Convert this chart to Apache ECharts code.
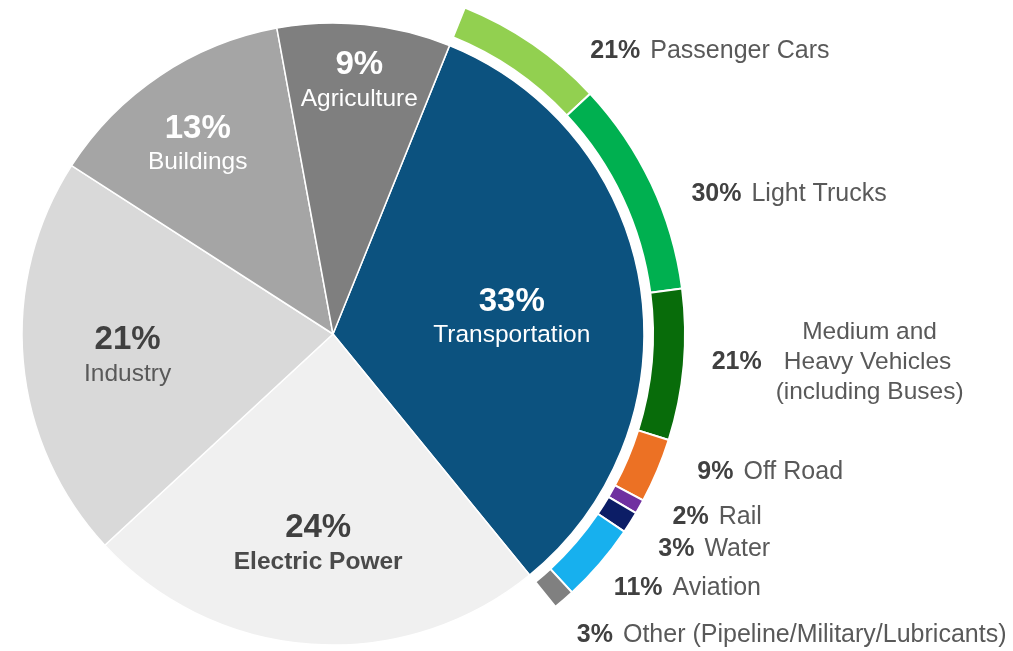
<!DOCTYPE html>
<html>
<head>
<meta charset="utf-8">
<script src="https://cdn.jsdelivr.net/npm/echarts@6/dist/echarts.min.js"></script>
<style>
  html, body { margin: 0; padding: 0; background: #ffffff; }
  #chart { width: 1013px; height: 651px; }
</style>
</head>
<body>
<div id="chart"></div>
<script>
// ---- data ----
const sectorNames = ['Transportation', 'Electric Power', 'Industry', 'Buildings', 'Agriculture'];
const sectorShares = [33, 24, 21, 13, 9];
const transportModes = ['Passenger Cars', 'Light Trucks', 'Medium and Heavy Vehicles (including Buses)', 'Off Road', 'Rail', 'Water', 'Aviation', 'Other (Pipeline/Military/Lubricants)'];
const transportShares = [21, 30, 21, 9, 2, 3, 11, 3];

// ---- styles ----
const FONT = 'Arial, "Liberation Sans", sans-serif';
const CX = 333, CY = 334, R = 311;
const START = 68;
const sectorColors = ['#0c527f', '#f0f0f0', '#d9d9d9', '#a5a5a5', '#7f7f7f'];
const sectorTextDark = [false, true, true, false, false];
const sectorLabelRadius = [0.58, 0.67, 0.66, 0.75, 0.82];
const sectorLabelNudge = [[-3, 10], [0, -3], [3, 3], [-3, 7], [0, 5]];
const modeColors = ['#92d050', '#00b050', '#086c0a', '#ec7124', '#7030a0', '#0c1d66', '#17b0ee', '#808080'];
const ringLabelOffsets = [[58, 7], [40, 10], [28, -3], [40, 1], [33, 10], [28, 27], [14, 25], [13, 35]];

const sectorData = sectorNames.map((n, i) => {
  const dark = sectorTextDark[i];
  const pc = dark ? '#404040' : '#ffffff';
  const nc = dark ? '#595959' : '#ffffff';
  return {
    name: n,
    value: sectorShares[i],
    itemStyle: { color: sectorColors[i] },
    label: {
      rich: {
        p: { fontFamily: FONT, fontSize: 33, fontWeight: 'bold', color: pc, lineHeight: 38, align: 'center' },
        n: { fontFamily: FONT, fontSize: 24.5, fontWeight: n === 'Electric Power' ? 'bold' : 'normal', color: n === 'Electric Power' ? '#4a4a4a' : nc, lineHeight: 30, align: 'center' }
      }
    }
  };
});

const transportIndex = sectorNames.indexOf('Transportation');
const sectorTotal = sectorShares.reduce((a, b) => a + b, 0);
const modeTotal = transportShares.reduce((a, b) => a + b, 0);
const ringRest = modeTotal * (sectorTotal - sectorShares[transportIndex]) / sectorShares[transportIndex];

const ringData = transportModes.map((n, i) => ({
  name: n,
  value: transportShares[i],
  itemStyle: { color: modeColors[i] }
}));
ringData.push({
  name: '__rest',
  value: ringRest,
  itemStyle: { color: 'rgba(0,0,0,0)', borderWidth: 0 },
  label: { show: false },
  labelLine: { show: false },
  emphasis: { disabled: true },
  tooltip: { show: false }
});

function ringFormatter(p) {
  if (p.name === 'Medium and Heavy Vehicles (including Buses)') {
    return '{sp| }{c|Medium and}\n{p|' + p.value + '%}{c|Heavy Vehicles}\n{sp| }{c|(including Buses)}';
  }
  return '{p|' + p.value + '%}{n|' + p.name + '}';
}

const chart = echarts.init(document.getElementById('chart'), null, { renderer: 'canvas' });
chart.setOption({
  backgroundColor: '#ffffff',
  animation: false,
  series: [
    {
      type: 'pie',
      center: [CX, CY],
      radius: [0, R],
      startAngle: START,
      clockwise: true,
      silent: true,
      avoidLabelOverlap: false,
      itemStyle: { borderColor: '#ffffff', borderWidth: 1.5 },
      label: {
        show: true,
        position: 'inside',
        formatter: p => '{p|' + p.value + '%}\n{n|' + p.name + '}'
      },
      labelLine: { show: false },
      labelLayout: function (p) {
        const f = sectorLabelRadius[p.dataIndex];
        const d = sectorLabelNudge[p.dataIndex];
        const r = p.labelRect;
        const mx = r.x + r.width / 2, my = r.y + r.height / 2;
        const k = f / 0.5;
        return { x: CX + (mx - CX) * k + d[0], y: CY + (my - CY) * k + d[1] };
      },
      data: sectorData
    },
    {
      type: 'pie',
      center: [CX, CY],
      radius: [320, 352],
      startAngle: START,
      clockwise: true,
      silent: true,
      avoidLabelOverlap: false,
      itemStyle: { borderColor: '#ffffff', borderWidth: 2 },
      label: {
        show: true,
        position: 'outside',
        alignTo: 'none',
        distanceToLabelLine: 0,
        formatter: ringFormatter,
        rich: {
          p: { fontFamily: FONT, fontSize: 25, fontWeight: 'bold', color: '#404040', lineHeight: 30, padding: [0, 10, 0, 0] },
          n: { fontFamily: FONT, fontSize: 25, color: '#595959', lineHeight: 30 },
          sp: { fontFamily: FONT, fontSize: 24, width: 64, lineHeight: 30 },
          c: { fontFamily: FONT, fontSize: 24.5, color: '#595959', lineHeight: 30, align: 'center' }
        }
      },
      labelLine: { show: false, length: 0, length2: 0 },
      labelLayout: function (p) {
        const off = ringLabelOffsets[p.dataIndex];
        if (!off) return {};
        const r = p.labelRect;
        return { x: r.x + off[0], y: r.y + r.height / 2 + off[1] };
      },
      data: ringData
    }
  ]
});
</script>
</body>
</html>
